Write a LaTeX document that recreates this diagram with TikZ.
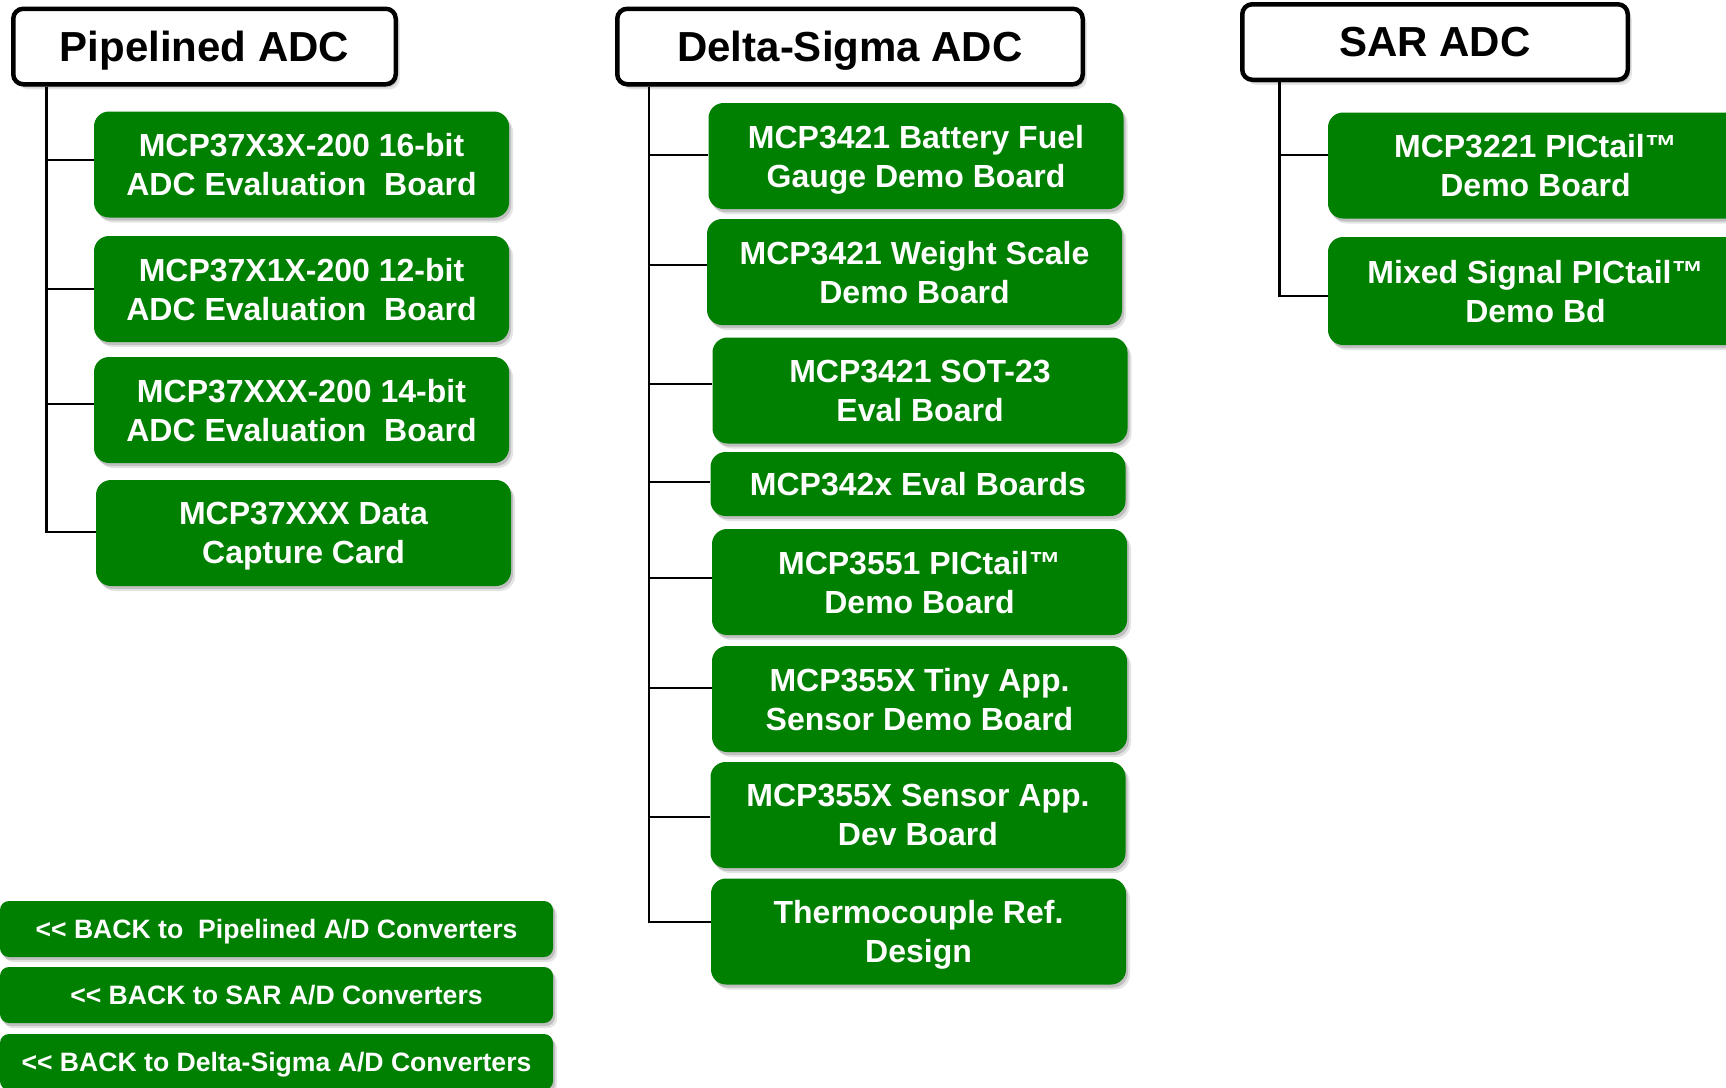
\documentclass[tikz,border=0pt]{standalone}
\usepackage{fontspec}
\setmainfont{Liberation Sans}
\usetikzlibrary{shadows}
\definecolor{BoardGreen}{HTML}{008000}
\definecolor{LineBlack}{HTML}{000000}
\definecolor{ShadowGray}{HTML}{6E6E6E}

\begin{document}
\begin{tikzpicture}[
    x=1pt, y=-1pt,
    soft shadow/.style={drop shadow={shadow xshift=2pt, shadow yshift=-3pt, opacity=0.3, fill=ShadowGray}, drop shadow={shadow xshift=4pt, shadow yshift=-5pt, opacity=0.18, fill=ShadowGray}},
    header/.style={rectangle, draw=LineBlack, line width=4.5pt, fill=white, rounded corners=10pt, minimum height=75.5pt, text depth=0pt, align=center, font=\fontsize{42}{50}\selectfont\bfseries, text=black, soft shadow},
    board/.style={rectangle, fill=BoardGreen, rounded corners=15pt, minimum width=415pt, minimum height=106pt, inner sep=0pt, text depth=0pt, align=center, font=\fontsize{32}{39}\selectfont\bfseries, text=white, soft shadow},
    back/.style={board, rounded corners=9pt, minimum width=553pt, minimum height=56pt, font=\fontsize{26.6}{32}\selectfont\bfseries},
    link/.style={draw=LineBlack, line width=2.5pt}
  ]
  % Frame
  \useasboundingbox (0,0) rectangle (1726,1087);
  \fill[white] (0,0) rectangle (1726,1087);
  \clip (0,0) rectangle (1726,1087);

  % Headers
  \node[header, minimum width=382.5pt] (pipe) at (204.5,46.5) {Pipelined ADC};
  \node[header, minimum width=465.5pt] (delta) at (850,46.5) {Delta-Sigma ADC};
  \node[header, minimum width=385.5pt] (sar) at (1435,42) {SAR ADC};

  % Pipelined boards
  \node[board] (p1) at (301.5,164.5) {MCP37X3X-200 16-bit\\ADC Evaluation~~Board};
  \node[board] (p2) at (301.5,289) {MCP37X1X-200 12-bit\\ADC Evaluation~~Board};
  \node[board] (p3) at (301.5,410) {MCP37XXX-200 14-bit\\ADC Evaluation~~Board};
  \node[board] (p4) at (303.5,533) {MCP37XXX Data\\Capture Card};

  % Delta-Sigma boards
  \node[board] (d1) at (916,156) {MCP3421 Battery Fuel\\Gauge Demo Board};
  \node[board] (d2) at (914.5,272) {MCP3421 Weight Scale\\Demo Board};
  \node[board] (d3) at (920,390.5) {MCP3421 SOT-23\\Eval Board};
  \node[board, minimum height=64pt] (d4) at (918,484) {MCP342x Eval Boards};
  \node[board] (d5) at (919.5,582) {MCP3551 PICtail™\\Demo Board};
  \node[board] (d6) at (919.5,699) {MCP355X Tiny App.\\Sensor Demo Board};
  \node[board] (d7) at (918,815) {MCP355X Sensor App.\\Dev Board};
  \node[board] (d8) at (918.5,931.5) {Thermocouple Ref.\\Design};

  % SAR boards
  \node[board] (s1) at (1535.5,165.5) {MCP3221 PICtail™\\Demo Board};
  \node[board, minimum height=108pt] (s2) at (1535.5,291) {Mixed Signal PICtail™\\Demo Bd};

  % Back buttons
  \node[back] (b1) at (276.5,929) {{<}{<} BACK to~~Pipelined A/D Converters};
  \node[back] (b2) at (276.5,995) {{<}{<} BACK to SAR A/D Converters};
  \node[back] (b3) at (276.5,1062) {{<}{<} BACK to Delta-Sigma A/D Converters};

  % Trunks
  \coordinate (ptop) at ([xshift=35.5pt]pipe.south west);
  \coordinate (dtop) at ([xshift=34pt]delta.south west);
  \coordinate (stop) at ([xshift=39.5pt]sar.south west);

  % Connections
  \draw[link] (ptop) |- ([yshift=4.5pt]p1.west);
  \draw[link] (ptop) |- (p2.west);
  \draw[link] (ptop) |- ([yshift=6pt]p3.west);
  \draw[link] (ptop) |- ([yshift=1pt]p4.west);

  \draw[link] (dtop) |- ([yshift=1pt]d1.west);
  \draw[link] (dtop) |- ([yshift=7pt]d2.west);
  \draw[link] (dtop) |- ([yshift=6.5pt]d3.west);
  \draw[link] (dtop) |- ([yshift=2pt]d4.west);
  \draw[link] (dtop) |- ([yshift=4pt]d5.west);
  \draw[link] (dtop) |- ([yshift=11pt]d6.west);
  \draw[link] (dtop) |- ([yshift=-2pt]d7.west);
  \draw[link] (dtop) |- ([yshift=9.5pt]d8.west);

  \draw[link] (stop) |- ([yshift=10.5pt]s1.west);
  \draw[link] (stop) |- ([yshift=-5pt]s2.west);
\end{tikzpicture}
\end{document}
